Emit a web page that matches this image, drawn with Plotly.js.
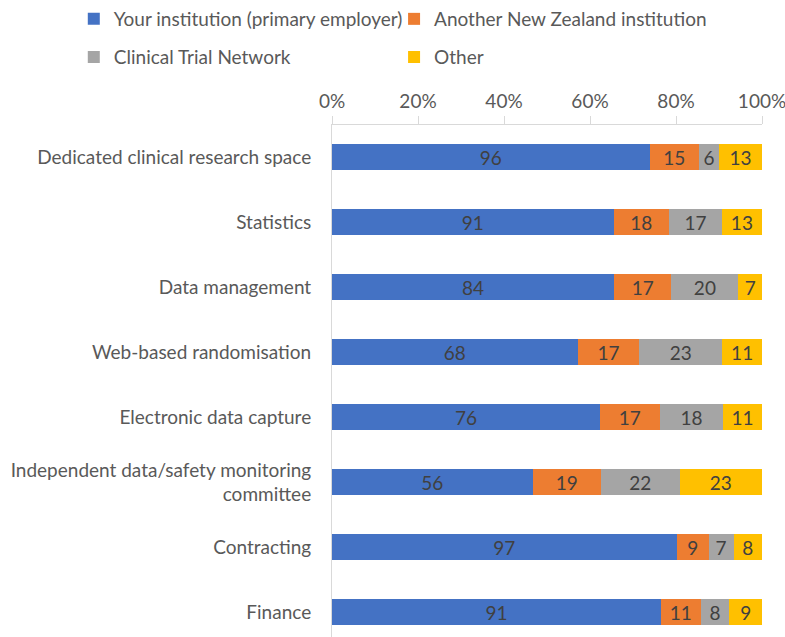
<!DOCTYPE html>
<html><head><meta charset="utf-8">
<script src="https://cdn.plot.ly/plotly-3.0.1.min.js"></script>
<style>body{margin:0;background:#fff}#chart{width:785px;height:637px}</style>
</head><body><div id="chart"></div>
<script>
const categories = ["Dedicated clinical research space","Statistics","Data management","Web-based randomisation","Electronic data capture","Independent data/safety monitoring<br>committee","Contracting","Finance"];
const seriesNames = ["Your institution (primary employer)","Another New Zealand institution","Clinical Trial Network","Other"];
const yourInstitution = [96,91,84,68,76,56,97,91];
const anotherNZ = [15,18,17,17,17,19,9,11];
const clinicalTrialNetwork = [6,17,20,23,18,22,7,8];
const other = [13,13,7,11,11,23,8,9];
const tickVals = [0,20,40,60,80,100];
const tickLabels = ["0%","20%","40%","60%","80%","100%"];

const values = [yourInstitution, anotherNZ, clinicalTrialNetwork, other];
const colors = ["#4472C4","#ED7D31","#A5A5A5","#FFC000"];
const legendIds = ["legend","legend2","legend3","legend4"];
const FONT = "Lato, 'Open Sans', sans-serif";
const FS = 19;

const traces = values.map((v,i)=>({
  type:'bar', orientation:'h', name:seriesNames[i],
  y:categories, x:v, text:v.map(String),
  textposition:'inside', insidetextanchor:'middle', textangle:0,
  constraintext:'none',
  textfont:{family:FONT,size:FS,color:'#404040'},
  marker:{color:colors[i], line:{width:0}},
  legend:legendIds[i], hoverinfo:'skip'
}));

function leg(x, y){
  return {orientation:'v', xref:'container', x:x, xanchor:'left', yref:'container', y:y, yanchor:'top',
    font:{family:FONT,size:FS,color:'#595959'}, itemwidth:30, bgcolor:'rgba(0,0,0,0)'};
}

const layout = {
  width:785, height:637,
  margin:{l:332,r:23,t:125,b:0,autoexpand:false},
  paper_bgcolor:'#fff', plot_bgcolor:'#fff',
  barmode:'stack', barnorm:'percent', bargap:0.6,
  font:{family:FONT,size:FS,color:'#595959'},
  xaxis:{side:'top', range:[0,100], tickmode:'array', tickvals:tickVals, ticktext:tickLabels,
    showgrid:false, zeroline:false, showline:true, linecolor:'#D9D9D9', linewidth:1,
    ticks:'outside', ticklen:8, tickcolor:'#D9D9D9', fixedrange:true, ticklabeloverflow:'allow',
    tickfont:{family:FONT,size:FS,color:'#595959'}},
  yaxis:{type:'category', categoryorder:'array', categoryarray:categories,
    range:[7.38,-0.5], showgrid:false, zeroline:false, showline:true,
    linecolor:'#D9D9D9', linewidth:1, ticks:'', ticklabelstandoff:16,
    tickfont:{family:FONT,size:FS,color:'#595959'}},
  showlegend:true,
  legend:leg(0.094, 1.0),
  legend2:leg(0.502, 1.0),
  legend3:leg(0.094, 0.94),
  legend4:leg(0.502, 0.94)
};
Plotly.newPlot('chart', traces, layout, {displayModeBar:false, staticPlot:true});
</script></body></html>
